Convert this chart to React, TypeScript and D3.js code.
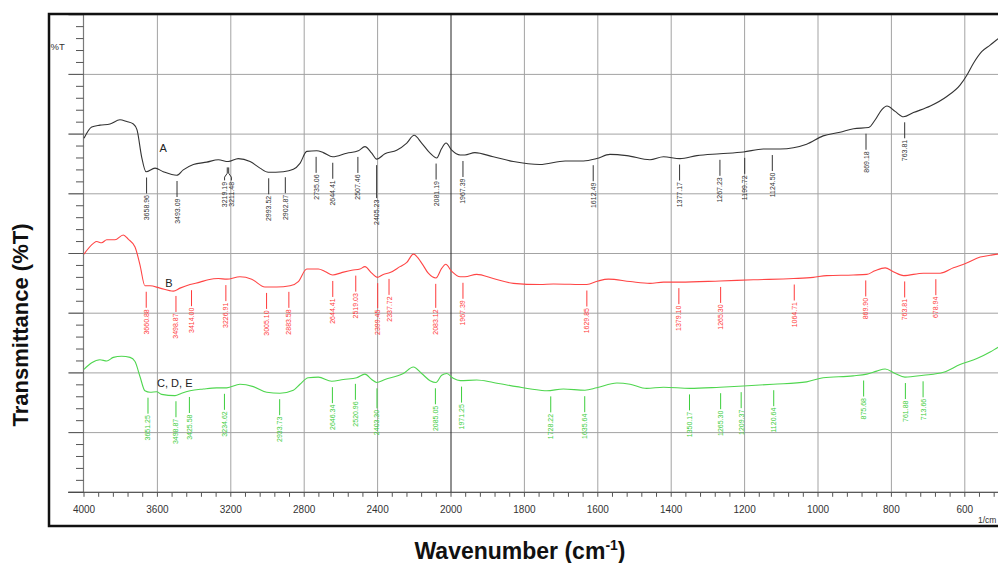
import React from 'react';
import * as d3 from 'd3';

// Wavenumbers (cm-1) and %T values
const waveA = [4000,3958,3913,3858,3804,3767,3731,3711,3686,3662,3613,3568,3495,3459,3404,3331,3268,3214,3159,3095,3041,2996,2914,2859,2823,2786,2732,2696,2645,2568,2505,2469,2432,2405,2360,2296,2241,2201,2160,2114,2078,2051,2027,1998,1975,1962,1935,1885,1830,1758,1689,1639,1603,1567,1521,1458,1421,1376,1330,1267,1203,1149,1103,1031,986,940,903,862,844,826,812,790,767,740,694,649,613,594,576,554,531,509,500];
const transA = [59.3,61.2,61.5,61.7,62.4,62.1,61.7,60.7,56.2,53.7,54.3,53.7,53.1,54.0,54.9,55.3,55.7,55.4,55.9,55.4,54.3,53.6,53.7,54.1,55.1,57.1,57.2,56.9,56.2,56.8,57.2,57.9,56.8,55.8,56.7,57.3,58.5,59.8,58.5,56.8,56.0,57.6,58.5,57.3,56.5,56.5,56.9,56.2,55.4,54.9,55.5,55.5,55.9,56.6,56.4,55.7,56.2,55.9,56.4,56.7,57.0,57.5,57.5,58.3,59.7,60.3,60.9,61.1,62.4,64.1,64.7,63.8,62.9,63.6,64.7,66.3,68.2,69.9,71.9,73.8,74.9,76.0,76.4];

const waveB = [4000,3949,3931,3904,3876,3831,3786,3759,3722,3695,3668,3640,3586,3513,3477,3422,3368,3323,3268,3222,3150,3086,3014,2950,2877,2832,2786,2723,2687,2645,2596,2541,2496,2469,2432,2402,2369,2332,2278,2241,2205,2160,2124,2082,2051,2029,1998,1975,1962,1930,1885,1830,1757,1721,1630,1599,1571,1512,1458,1421,1376,1267,1176,1067,1013,976,904,867,845,817,795,767,713,667,631,595,558,531,509,500];
const transB = [39.9,41.7,42.0,41.8,42.3,42.3,43.1,42.4,41.1,38.1,34.6,34.6,34.2,33.7,34.2,34.8,35.2,35.6,35.8,35.7,36.1,35.7,34.4,34.4,34.6,35.3,37.4,37.4,37.0,36.4,36.8,37.2,37.4,37.8,36.7,36.0,36.5,36.8,37.8,38.5,39.9,38.4,36.7,35.9,37.5,38.2,37.0,36.1,36.1,36.5,35.8,35.0,34.8,34.9,34.8,35.4,35.7,35.3,35.0,35.2,35.2,35.4,35.6,35.8,36.0,36.3,36.4,36.5,37.1,37.6,36.95,36.3,36.7,36.7,37.6,38.4,39.4,39.7,39.9,39.9];

const waveC = [4000,3958,3913,3876,3840,3795,3749,3722,3695,3668,3640,3604,3577,3504,3468,3422,3350,3277,3222,3150,3077,3004,2932,2859,2823,2778,2723,2650,2587,2514,2469,2432,2405,2360,2260,2205,2160,2114,2082,2051,2023,1994,1975,1930,1885,1821,1757,1739,1694,1635,1603,1548,1512,1467,1421,1349,1267,1203,1122,1031,986,904,867,840,817,790,763,713,658,613,567,531,509,500];
const transC = [20.6,21.7,22.2,22.0,22.6,22.8,22.6,21.9,19.4,17.0,16.75,16.85,16.4,16.2,16.6,17.0,17.3,17.5,17.5,18.1,17.7,16.75,16.6,17.1,18.1,19.2,19.3,18.6,18.9,19.2,19.8,18.9,18.4,18.9,19.9,21.0,19.9,18.7,18.4,19.6,19.9,19.1,18.7,18.8,18.4,17.7,17.1,17.0,17.3,17.1,17.5,18.3,18.1,17.4,17.6,17.4,17.6,17.8,18.1,18.5,19.2,19.5,19.8,20.3,20.65,19.9,19.3,19.6,20.1,21.4,22.4,23.5,24.3,24.6];

const peaksA = ["3658.96","3493.09","3219.19","3211.48","2993.52","2902.87","2735.06","2644.41","2507.46","2405.23","2081.19","1967.39","1612.49","1377.17","1267.23","1199.72","1124.50","869.18","763.81"];
const peaksB = ["3660.88","3498.87","3414.00","3226.91","3005.10","2883.58","2644.41","2519.03","2399.45","2337.72","2083.12","1967.39","1629.85","1379.10","1265.30","1064.71","869.90","763.81","678.94"];
const peaksC = ["3651.25","3498.87","3425.58","3234.62","2933.73","2646.34","2520.96","2403.30","2085.05","1971.25","1728.22","1635.64","1350.17","1265.30","1209.37","1120.64","875.68","761.88","713.66"];

const seriesNames = ["A", "B", "C, D, E"];
const xMajorTicks = [4000,3600,3200,2800,2400,2000,1800,1600,1400,1200,1000,800,600];

const FONT = "Arial, 'Liberation Sans', Helvetica, sans-serif";

function valueAt(ws: number[], vs: number[], w: number) {
  for (let i = 0; i < ws.length - 1; i++) {
    if (ws[i] >= w && w >= ws[i + 1]) {
      const t = (ws[i] - w) / (ws[i] - ws[i + 1]);
      return vs[i] + t * (vs[i + 1] - vs[i]);
    }
  }
  return vs[vs.length - 1];
}

export default function App() {
  const W = 998, H = 563;
  const x = d3.scaleLinear().domain([4000, 2000, 500]).range([84, 451, 1001.5]);
  const y = d3.scaleLinear().domain([0, 80]).range([492.3, 14.7]);
  const xLeft = 83.5, xRight = 1010;

  const series = [
    { name: seriesNames[0], ws: waveA, vs: transA, peaks: peaksA, color: "#333333", textColor: "#333333", nameAt: [3569, 57.7], anchor: "middle" },
    { name: seriesNames[1], ws: waveB, vs: transB, peaks: peaksB, color: "#ff4545", textColor: "#ff3a3a", nameAt: [3537, 35.1], anchor: "middle" },
    { name: seriesNames[2], ws: waveC, vs: transC, peaks: peaksC, color: "#4fd64f", textColor: "#3cce3c", nameAt: [3602, 18.3], anchor: "start" },
  ];

  const leaderOverride: Record<string, number> = {
    "A:2405.23": 33, "B:2399.45": 25, "B:2083.12": 24, "C, D, E:2403.30": 20,
    "A:3219.19": 13, "A:3211.48": 13,
  };

  const line = d3.line<[number, number]>()
    .x(d => x(d[0]))
    .y(d => y(d[1]))
    .curve(d3.curveMonotoneX);

  const minor1 = d3.range(4000, 2000, -80);
  const minor2 = d3.range(2000, 499, -40);
  const xMinor = [...minor1, ...minor2];
  const yMinor = d3.range(0, 81, 2);
  const yMajor = d3.range(0, 81, 10);

  return (
    <svg width={W} height={H} style={{ position: 'absolute', left: 0, top: 0, background: '#fff' }} fontFamily={FONT}>
      <rect x={0} y={0} width={W} height={H} fill="#fff" />
      {/* horizontal gridlines */}
      {yMajor.map(v => (
        <line key={'hg' + v} x1={68.5} x2={xRight} y1={y(v)} y2={y(v)} stroke="#a3a3a3" strokeWidth={1} />
      ))}
      {/* vertical gridlines */}
      {xMajorTicks.filter(t => t !== 4000).map(t => (
        <line key={'vg' + t} x1={x(t)} x2={x(t)} y1={y(80)} y2={y(0)} stroke={t === 2000 ? "#222" : "#a3a3a3"} strokeWidth={1} />
      ))}
      {/* y axis */}
      <line x1={xLeft} x2={xLeft} y1={y(80)} y2={y(0)} stroke="#7a7a7a" strokeWidth={1.2} />
      {yMinor.map(v => (
        <line key={'ym' + v} x1={v % 10 === 0 ? 68.5 : 76} x2={xLeft} y1={y(v)} y2={y(v)} stroke="#555" strokeWidth={1} />
      ))}
      <text x={50.5} y={49.5} fontSize={9.5} fill="#333">%T</text>
      {/* x axis */}
      <line x1={68} x2={xRight} y1={y(0)} y2={y(0)} stroke="#444" strokeWidth={1} />
      {xMinor.map(t => (
        <line key={'xm' + t} x1={x(t)} x2={x(t)} y1={y(0)} y2={y(0) + 4.5} stroke="#555" strokeWidth={1} />
      ))}
      {xMajorTicks.map(t => (
        <text key={'xl' + t} x={x(t)} y={513} fontSize={10} fill="#333" textAnchor="middle">{t}</text>
      ))}
      <text x={978} y={523} fontSize={8.5} fill="#333">1/cm</text>

      {/* spectra */}
      {series.map(s => {
        const pts: [number, number][] = s.ws.map((w, i) => [w, s.vs[i]]);
        return <path key={'p' + s.name} d={line(pts) || ''} fill="none" stroke={s.color} strokeWidth={1.1} />;
      })}

      {/* peak annotations */}
      {series.map(s => {
        const items = s.peaks.map(p => {
          const w = parseFloat(p);
          const px = x(w);
          return { p, w, px, tx: px };
        }).sort((a, b) => a.px - b.px);
        for (let i = 0; i < items.length - 1; i++) {
          if (items[i + 1].px - items[i].px < 6) {
            const mid = (items[i].px + items[i + 1].px) / 2;
            items[i].tx = mid - 3.4;
            items[i + 1].tx = mid + 3.4;
          }
        }
        return (
          <g key={'ann' + s.name}>
            {items.map(it => {
              const top = y(valueAt(s.ws, s.vs, it.w)) + 6;
              const len = leaderOverride[s.name + ':' + it.p] ?? 16;
              const bottom = top + len;
              const pathD = it.tx === it.px
                ? `M${it.px},${top}V${bottom}`
                : `M${(it.px)},${top}V${top + len * 0.45}L${it.tx},${top + len * 0.75}V${bottom}`;
              return (
                <g key={it.p}>
                  <path d={pathD} stroke={s.textColor} strokeWidth={1} fill="none" />
                  <text transform={`translate(${it.tx},${bottom + 1.5}) rotate(-90)`} textAnchor="end"
                    dominantBaseline="central" fontSize={7} fill={s.textColor}>{it.p}</text>
                </g>
              );
            })}
            <text x={x(s.nameAt[0])} y={y(s.nameAt[1])} fontSize={11} fill="#222" textAnchor={s.anchor as any}
              dominantBaseline="central">{s.name}</text>
          </g>
        );
      })}

      {/* outer frame */}
      <rect x={49} y={14} width={1000} height={512} fill="none" stroke="#111" strokeWidth={2.5} />

      {/* axis titles */}
      <text x={520} y={559} fontSize={23} fontWeight="bold" fill="#111" textAnchor="middle">
        Wavenumber (cm<tspan fontSize={14} dy={-9}>-1</tspan><tspan dy={9}>)</tspan>
      </text>
      <text transform={`translate(28,325) rotate(-90)`} fontSize={22} fontWeight="bold" fill="#111" textAnchor="middle">
        Transmittance (%T)
      </text>
    </svg>
  );
}
